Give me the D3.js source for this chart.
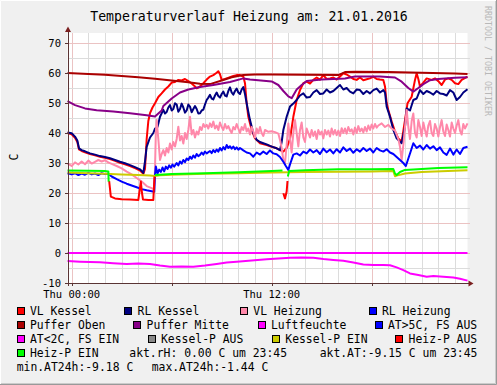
<!DOCTYPE html>
<html><head><meta charset="utf-8">
<script src="https://cdn.jsdelivr.net/npm/d3@7"></script>
<style>
html,body{margin:0;padding:0;background:#fff;}
svg{display:block;}
text{font-family:"DejaVu Sans Mono",monospace;}
</style></head>
<body>
<svg id="chart" width="497" height="385"></svg>
<script>
// ---------- data ----------
const title = "Temperaturverlauf Heizung am: 21.01.2016";
const yLabel = "C";
const yTicks = [-10, 0, 10, 20, 30, 40, 50, 60, 70];
const xTickHours = [0, 12];
const xTickLabels = ["Thu 00:00", "Thu 12:00"];

// [hour, value]; null = no data
const vlKessel = [[-0.25,40.0],[0,39.6],[0.2,38.4],[0.34,37.0],[0.44,34.5],[0.6,34.0],[0.8,33.6],[1.1,33.0],[1.4,32.6],[1.7,32.1],[2.0,31.7],[2.3,31.3],[2.6,30.7],[2.9,30.1],[3.2,29.6],[3.5,29.0],[3.8,28.3],[4.1,27.5],[4.3,26.4],[4.4,28.0],[4.5,38.0],[4.6,44.0],[4.7,46.6],[4.85,48.5],[5.0,49.9],[5.2,52.0],[5.4,53.2],[5.6,54.5],[5.8,55.5],[6.0,56.8],[6.2,57.0],[6.4,57.7],[6.6,57.5],[6.8,58.0],[7.0,57.3],[7.2,56.5],[7.4,55.5],[7.5,54.9],[7.7,55.5],[7.9,56.6],[8.1,57.8],[8.3,58.8],[8.5,59.3],[8.7,60.1],[8.8,60.6],[8.9,59.6],[9.0,57.7],[9.2,58.0],[9.3,58.2],[9.5,58.6],[9.7,59.0],[9.9,59.3],[10.1,59.3],[10.3,58.8],[10.4,56.6],[10.5,49.9],[10.6,45.4],[10.8,41.0],[11.0,38.2],[11.3,36.6],[11.7,36.0],[12.0,35.4],[12.3,34.9],[12.5,34.3],[12.7,33.8],[12.9,35.0],[13.1,38.0],[13.3,45.4],[13.5,51.0],[13.7,54.3],[13.9,56.6],[14.1,57.1],[14.3,56.5],[14.5,57.7],[14.7,58.5],[14.9,57.8],[15.1,59.3],[15.3,58.0],[15.5,58.2],[15.7,58.5],[15.9,57.8],[16.1,58.8],[16.3,59.9],[16.5,59.5],[16.7,58.8],[16.9,58.0],[17.1,57.7],[17.3,58.5],[17.5,57.6],[17.7,57.9],[17.9,58.2],[18.1,58.8],[18.3,58.0],[18.5,57.8],[18.7,57.7],[18.8,55.5],[18.9,50.0],[19.0,47.7],[19.2,43.8],[19.4,40.5],[19.6,38.2],[19.8,37.1],[20.0,44.3],[20.15,49.9],[20.4,52.1],[20.6,57.7],[20.7,59.9],[20.8,58.0],[20.9,55.5],[21.1,56.8],[21.3,58.2],[21.6,57.7],[21.8,58.2],[22.0,57.3],[22.2,56.0],[22.4,57.8],[22.6,58.2],[22.8,57.7],[23.0,56.6],[23.2,56.3],[23.4,57.7],[23.75,58.8]];

const rlKessel = [[-0.25,40.2],[0,39.9],[0.2,38.8],[0.34,37.5],[0.44,34.9],[0.6,34.3],[0.8,33.9],[1.1,33.2],[1.4,32.8],[1.7,32.3],[2.0,32.0],[2.3,31.6],[2.6,31.0],[2.9,30.4],[3.2,29.9],[3.5,29.3],[3.8,28.6],[4.1,27.9],[4.3,26.7],[4.4,30.5],[4.5,35.4],[4.7,38.5],[4.9,40.0],[5.0,41.5],[5.15,42.0],[5.3,45.4],[5.5,47.7],[5.6,46.5],[5.7,47.0],[5.8,48.5],[5.9,49.3],[6.0,47.5],[6.1,48.0],[6.2,49.9],[6.3,49.5],[6.4,47.1],[6.5,48.0],[6.6,49.8],[6.7,48.5],[6.8,46.8],[6.9,47.5],[7.0,49.5],[7.1,48.8],[7.2,46.9],[7.3,48.0],[7.4,49.0],[7.5,48.0],[7.6,46.5],[7.7,46.6],[7.8,47.5],[7.9,47.8],[8.0,49.5],[8.1,51.0],[8.2,51.8],[8.3,52.7],[8.4,51.5],[8.5,51.2],[8.6,52.5],[8.7,53.5],[8.8,52.3],[8.9,51.8],[9.0,53.0],[9.1,53.8],[9.2,52.5],[9.3,52.2],[9.4,54.0],[9.5,55.2],[9.6,53.5],[9.7,52.8],[9.8,54.0],[9.9,54.8],[10.0,53.5],[10.1,53.0],[10.2,54.5],[10.3,55.3],[10.4,53.0],[10.5,49.9],[10.6,47.0],[10.7,44.3],[10.9,39.9],[11.1,37.7],[11.3,37.0],[11.5,36.6],[11.7,36.2],[11.9,35.7],[12.1,35.3],[12.3,34.9],[12.5,34.3],[12.6,37.0],[12.7,41.0],[12.9,45.4],[13.1,48.8],[13.3,49.8],[13.5,51.0],[13.7,52.5],[13.9,53.2],[14.1,51.8],[14.3,52.0],[14.5,53.5],[14.7,54.3],[14.9,53.0],[15.1,53.2],[15.3,54.5],[15.5,53.5],[15.7,54.0],[15.9,55.0],[16.1,56.0],[16.3,54.5],[16.5,55.0],[16.7,53.8],[16.9,53.2],[17.1,54.5],[17.3,54.3],[17.5,53.0],[17.7,54.0],[17.9,53.2],[18.1,54.3],[18.3,54.8],[18.5,53.5],[18.7,54.3],[18.8,53.5],[18.9,48.8],[19.1,45.4],[19.3,41.0],[19.5,38.2],[19.7,37.1],[19.8,36.6],[20.0,42.0],[20.1,48.2],[20.3,47.5],[20.5,51.0],[20.7,51.5],[20.9,54.3],[21.1,53.0],[21.3,54.0],[21.5,53.5],[21.7,52.8],[21.9,54.0],[22.1,53.2],[22.3,53.0],[22.5,52.5],[22.7,54.3],[22.9,53.5],[23.1,51.0],[23.3,52.0],[23.5,53.5],[23.75,54.6]];

const vlHeizung = [[-0.25,29.9],[0,29.0],[0.2,30.2],[0.4,29.5],[0.6,30.5],[0.8,29.6],[1.0,30.8],[1.2,29.8],[1.4,30.4],[1.6,31.0],[1.8,30.5],[2.0,30.9],[2.2,30.2],[2.4,29.7],[2.7,29.0],[3.0,28.2],[3.3,27.1],[3.6,26.2],[3.9,25.0],[4.2,23.8],[4.5,22.3],[4.8,21.6],[4.95,21.3],[5.0,28.0],[5.05,40.0],[5.1,44.3],[5.2,38.0],[5.3,31.0],[5.4,33.0],[5.5,34.3],[5.6,32.5],[5.7,35.0],[5.8,33.5],[5.9,36.5],[6.0,34.5],[6.1,37.0],[6.2,35.5],[6.3,38.0],[6.4,42.1],[6.5,37.5],[6.6,39.0],[6.7,36.5],[6.8,40.0],[6.9,38.0],[7.0,41.0],[7.1,45.4],[7.2,39.5],[7.3,41.0],[7.4,38.5],[7.5,40.5],[7.6,39.5],[7.7,42.0],[7.8,41.0],[7.9,43.0],[8.0,42.0],[8.1,42.7],[8.2,41.5],[8.3,43.2],[8.4,42.0],[8.5,43.8],[8.6,41.5],[8.7,42.5],[8.8,41.0],[8.9,43.5],[9.0,42.0],[9.1,41.0],[9.2,43.0],[9.3,41.5],[9.4,42.3],[9.5,41.0],[9.6,40.0],[9.7,42.0],[9.8,41.2],[9.9,43.0],[10.0,41.5],[10.1,40.0],[10.2,42.0],[10.3,41.0],[10.4,43.0],[10.5,40.5],[10.6,41.5],[10.7,39.5],[10.8,42.0],[10.9,40.5],[11.0,38.5],[11.1,41.5],[11.2,39.9],[11.3,42.0],[11.4,40.0],[11.5,39.0],[11.6,41.0],[11.8,40.4],[12.0,40.6],[12.2,40.3],[12.4,39.8],[12.5,37.7],[12.6,35.0],[12.7,31.0],[12.8,30.0],[12.9,36.0],[13.0,43.2],[13.1,38.0],[13.2,33.5],[13.3,40.0],[13.4,44.3],[13.5,40.0],[13.6,35.5],[13.7,41.0],[13.8,43.5],[13.9,38.5],[14.0,37.0],[14.1,41.5],[14.2,40.0],[14.3,38.5],[14.4,41.0],[14.5,39.0],[14.6,40.5],[14.7,38.0],[14.8,41.0],[14.9,39.5],[15.0,40.5],[15.1,38.2],[15.2,41.0],[15.3,39.5],[15.4,40.8],[15.5,38.8],[15.6,41.5],[15.7,39.5],[15.8,41.0],[15.9,39.3],[16.0,40.8],[16.1,39.0],[16.2,41.6],[16.3,40.0],[16.4,41.5],[16.5,39.8],[16.6,42.0],[16.7,40.5],[16.8,41.2],[16.9,39.5],[17.0,41.8],[17.1,40.0],[17.2,42.3],[17.3,40.5],[17.4,41.5],[17.5,40.2],[17.6,42.0],[17.7,40.5],[17.8,42.5],[17.9,41.0],[18.0,42.8],[18.1,41.5],[18.2,43.0],[18.3,41.8],[18.4,42.5],[18.6,43.2],[18.8,42.0],[19.0,42.7],[19.2,41.5],[19.4,40.8],[19.6,38.0],[19.7,35.4],[19.8,31.0],[19.9,36.0],[20.0,42.0],[20.1,47.7],[20.2,42.0],[20.3,38.0],[20.4,44.0],[20.5,46.5],[20.6,40.0],[20.7,38.5],[20.8,44.3],[20.9,42.0],[21.0,39.0],[21.1,43.5],[21.2,41.0],[21.3,38.8],[21.4,42.5],[21.5,44.0],[21.6,40.0],[21.7,39.0],[21.8,43.0],[21.9,41.5],[22.0,38.8],[22.1,42.0],[22.2,44.3],[22.3,40.5],[22.4,39.0],[22.5,42.8],[22.6,41.0],[22.7,38.8],[22.8,43.5],[22.9,41.5],[23.0,40.0],[23.1,42.5],[23.2,44.3],[23.3,40.8],[23.4,39.5],[23.5,43.0],[23.6,41.5],[23.75,43.2]];

const rlHeizung = [[-0.25,26.6],[0,26.2],[0.2,26.6],[0.4,26.0],[0.6,26.5],[0.8,26.1],[1.0,26.7],[1.2,26.2],[1.4,26.5],[1.6,26.0],[1.8,26.6],[2.0,26.3],[2.2,26.4],[2.4,25.5],[2.7,24.6],[3.0,23.8],[3.3,23.1],[3.6,22.5],[3.9,21.9],[4.2,21.3],[4.5,20.9],[4.8,20.6],[4.95,20.4],[5.0,26.0],[5.05,28.8],[5.15,26.5],[5.25,27.8],[5.35,27.0],[5.45,28.5],[5.55,27.2],[5.65,28.8],[5.75,28.0],[5.85,29.2],[5.95,28.4],[6.05,29.5],[6.15,28.8],[6.3,30.0],[6.4,29.2],[6.5,30.5],[6.6,29.8],[6.7,31.0],[6.8,30.3],[6.9,31.5],[7.0,31.0],[7.1,32.1],[7.2,31.4],[7.3,32.5],[7.4,31.8],[7.5,33.0],[7.6,32.3],[7.7,32.7],[7.8,33.5],[7.9,32.8],[8.0,33.8],[8.1,33.2],[8.3,34.0],[8.4,33.3],[8.5,34.3],[8.6,33.6],[8.7,34.5],[8.8,33.8],[8.9,35.0],[9.0,34.2],[9.1,35.3],[9.2,34.5],[9.3,36.0],[9.4,35.0],[9.5,35.6],[9.6,34.8],[9.7,35.5],[9.8,34.6],[9.9,35.2],[10.0,34.4],[10.1,35.0],[10.3,34.2],[10.5,33.5],[10.7,33.2],[10.9,32.1],[11.1,33.5],[11.3,32.8],[11.5,33.8],[11.7,33.0],[11.9,34.2],[12.1,33.2],[12.3,32.9],[12.5,32.0],[12.7,30.4],[12.85,29.0],[13.0,27.7],[13.1,29.5],[13.3,32.8],[13.5,33.2],[13.7,32.5],[13.9,33.8],[14.1,33.2],[14.3,34.5],[14.5,33.5],[14.7,34.3],[14.9,33.0],[15.1,34.8],[15.3,33.6],[15.5,34.5],[15.7,33.2],[15.9,34.6],[16.1,33.5],[16.3,35.2],[16.5,34.0],[16.7,34.8],[16.9,33.4],[17.1,34.6],[17.3,33.8],[17.5,35.0],[17.7,34.0],[17.9,34.8],[18.1,33.5],[18.3,35.0],[18.5,34.2],[18.7,33.8],[18.9,34.6],[19.1,33.5],[19.3,33.0],[19.5,32.0],[19.7,31.0],[19.9,30.0],[20.05,29.0],[20.2,31.5],[20.35,34.0],[20.5,36.6],[20.7,35.0],[20.9,35.8],[21.1,34.5],[21.3,36.0],[21.5,34.8],[21.7,35.6],[21.9,34.3],[22.1,35.2],[22.3,33.5],[22.5,32.7],[22.7,34.8],[22.9,32.8],[23.1,34.5],[23.3,33.0],[23.5,35.0],[23.75,35.4]];

const pufferOben = [[-0.25,60.0],[1,59.7],[2,59.4],[3,59.0],[4,58.6],[5,58.1],[6,57.5],[7,56.9],[7.7,56.4],[8.3,56.3],[9,57.5],[9.6,58.6],[10.3,59.3],[11,59.5],[12,59.5],[14,59.4],[16,59.3],[16.4,60.3],[17,60.4],[19,60.3],[21,60.1],[23,59.8],[23.75,59.7]];

const pufferMitte = [[-0.25,50.6],[0.2,49.3],[0.8,48.2],[1.5,47.6],[2.5,47.2],[3.5,46.6],[4.5,45.9],[5.0,45.5],[5.4,47.5],[5.5,49.0],[6.0,51.5],[6.5,53.5],[7.0,54.5],[7.7,55.3],[8.5,56.0],[9.5,57.0],[10.3,58.2],[10.7,57.8],[12.0,57.2],[12.4,56.0],[12.7,54.0],[13.0,52.2],[13.2,51.6],[13.5,54.5],[13.8,56.0],[14.1,57.3],[15.0,57.8],[16.4,58.2],[17.0,58.8],[18.5,58.8],[19.4,58.5],[19.8,57.1],[20.2,55.0],[20.5,53.8],[20.8,55.0],[21.1,56.3],[21.5,57.6],[22.0,58.0],[23.0,58.4],[23.75,58.6]];

const luftfeuchte = [[-0.25,0],[23.75,0]];

const atAus = [];

const atEin = [[-0.25,-2.7],[0.5,-2.9],[1.7,-3.1],[2.5,-3.4],[3.3,-3.7],[4.0,-3.5],[4.7,-3.7],[5.3,-4.2],[5.9,-4.6],[6.6,-4.5],[7.3,-4.6],[8.0,-4.2],[8.7,-3.7],[9.3,-3.2],[9.9,-2.9],[10.8,-2.5],[11.7,-2.1],[12.4,-1.8],[13.1,-1.6],[13.8,-1.5],[14.5,-1.6],[15.1,-2.0],[15.7,-2.3],[16.3,-2.6],[16.9,-3.2],[17.5,-3.8],[18.1,-4.0],[18.7,-4.0],[19.1,-4.1],[19.5,-4.8],[19.9,-5.7],[20.3,-6.8],[20.8,-7.3],[21.3,-7.9],[21.7,-7.7],[22.3,-7.9],[22.9,-8.2],[23.3,-8.6],[23.75,-9.2]];

const kesselPAus = [];

const kesselPEin = [[-0.25,26.8],[1,26.6],[2,26.4],[3,26.2],[4,26.0],[4.7,25.8],[5.0,25.7],[5.3,25.9],[6,26.1],[8,26.4],[10,26.6],[12,26.8],[14,27.0],[16,27.1],[18,27.2],[19.3,27.3],[19.4,25.6],[19.5,25.8],[20,26.5],[21,27.0],[23.75,27.6]];

const heizPAus = [[2.25,24.0],[2.35,18.8],[2.6,18.2],[3.0,17.9],[3.5,17.8],[4.0,17.7],[4.08,21.0],[4.15,23.8],[4.22,20.0],[4.28,17.8],[4.6,17.7],[4.9,17.7],[4.97,25.5],[null,null],[12.7,19.9],[12.8,18.2],[12.9,20.5],[12.95,24.0]];

const heizPEin = [[-0.25,27.5],[1,27.4],[2.0,27.3],[2.2,27.2],[2.22,23.8],[null,null],[5.0,26.0],[6,26.3],[8,26.6],[10,26.9],[12,27.3],[12.65,27.5],[null,null],[12.97,25.5],[13.05,27.3],[14,27.6],[16,27.9],[18,27.9],[19.3,28.0],[19.4,26.5],[19.5,26.0],[19.7,27.0],[20,27.7],[22,28.3],[23.75,28.6]];

const seriesNames = ["VL Kessel","RL Kessel","VL Heizung","RL Heizung","Puffer Oben","Puffer Mitte","Luftfeuchte","AT>5C, FS AUS","AT<2C, FS EIN","Kessel-P AUS","Kessel-P EIN","Heiz-P AUS","Heiz-P EIN"];
const seriesColors = ["#FF0000","#000080","#FF88AA","#0000FF","#AA0000","#880088","#FF00FF","#0000FF","#FF00FF","#888888","#CCCC00","#FF0000","#00FF00"];
const seriesData = [vlKessel, rlKessel, vlHeizung, rlHeizung, pufferOben, pufferMitte, luftfeuchte, atAus, atEin, kesselPAus, kesselPEin, heizPAus, heizPEin];

const infoLines = ["akt.rH: 0.00 C um 23:45", "akt.AT:-9.15 C um 23:45", "min.AT24h:-9.18 C", "max.AT24h:-1.44 C"];
const watermark = "RRDTOOL / TOBI OETIKER";

// ---------- layout ----------
const legendPos = [[16.7,315],[124.3,315],[240,315],[368.7,315],
                   [16.7,329],[133.3,329],[257.7,329],[374.7,329],
                   [16.7,343],[147.7,343],[272,343],[395.3,343],
                   [16.7,357]];
const infoPos = [[129.3,357],[319.7,357],[16.7,371],[151.7,371]];

const svg = d3.select("#chart");
const W = 497, H = 385;
const pL = 67.5, pR = 467.5, pT = 33, pB = 283;

svg.append("rect").attr("width", W).attr("height", H).attr("fill", "#F0F0F0");
svg.append("path").attr("d", `M0.5,${H} V0.5 H${W}`).attr("stroke", "#FFFFFF").attr("fill", "none");
svg.append("path").attr("d", `M${W-1.5},1 V${H-1.5} H1`).attr("stroke", "#CBCBCB").attr("fill", "none");
svg.append("path").attr("d", `M${W-0.5},0 V${H-0.5} H0`).attr("stroke", "#999999").attr("fill", "none");

const x = d3.scaleLinear().domain([-0.25, 23.75]).range([pL, pR]);
const y = d3.scaleLinear().domain([-10, 73.3333]).range([pB, pT]);

svg.append("rect").attr("x", pL).attr("y", pT).attr("width", pR-pL).attr("height", pB-pT).attr("fill", "#FFFFFF");

const grid = svg.append("g").attr("shape-rendering", "crispEdges");
d3.range(0, 24).forEach(h => {
  const major = h % 6 === 0;
  const px = Math.round(x(h)) + 0.5;
  grid.append("line").attr("x1", px).attr("x2", px).attr("y1", pT).attr("y2", pB)
    .attr("stroke", major ? "#EBC3C3" : "#DCDCDC");
});
d3.range(-10, 75, 5).forEach(v => {
  const major = v % 10 === 0;
  const py = Math.round(y(v)) + 0.5;
  grid.append("line").attr("x1", pL).attr("x2", pR + 2).attr("y1", py).attr("y2", py)
    .attr("stroke", major ? "#EBC3C3" : "#DCDCDC");
});

// series
const line = d3.line().defined(d => d[0] !== null && d[1] !== null).x(d => x(d[0])).y(d => y(d[1]));
seriesData.forEach((data, i) => {
  if (!data.length) return;
  svg.append("path").attr("d", line(data)).attr("fill", "none")
    .attr("stroke", seriesColors[i]).attr("stroke-width", 2).attr("stroke-linejoin", "round");
});

// axes
const axisC = "#5a3434";
const axisG = svg.append("g").attr("shape-rendering", "crispEdges");
axisG.append("line").attr("x1", pL).attr("x2", pR + 2).attr("y1", pB + 0.5).attr("y2", pB + 0.5).attr("stroke", axisC);
axisG.append("line").attr("x1", pL + 0.5).attr("x2", pL + 0.5).attr("y1", pT - 2).attr("y2", pB + 3).attr("stroke", axisC);
[0, 6, 12, 18].forEach(h => {
  const px = Math.round(x(h)) + 0.5;
  axisG.append("line").attr("x1", px).attr("x2", px).attr("y1", pB).attr("y2", pB + 3).attr("stroke", axisC);
});
yTicks.forEach(v => {
  const py = Math.round(y(v)) + 0.5;
  axisG.append("line").attr("x1", pL - 3).attr("x2", pL).attr("y1", py).attr("y2", py).attr("stroke", axisC);
});
svg.append("path").attr("d", `M${pR+1},${pB-2.5} L${pR+6},${pB+0.5} L${pR+1},${pB+3.5} Z`).attr("fill", "#7a1f1f");
svg.append("path").attr("d", `M${pL-2.5},${pT-1} L${pL+0.5},${pT-6.5} L${pL+3.5},${pT-1} Z`).attr("fill", "#7a1f1f");

// tick labels
svg.append("g").selectAll("text").data(yTicks).join("text")
  .attr("x", 61).attr("y", d => y(d) + 3.8).attr("text-anchor", "end")
  .attr("font-size", 10.5).attr("fill", "#000").text(d => d);
svg.append("g").selectAll("text").data(xTickHours).join("text")
  .attr("x", d => x(d)).attr("y", 298).attr("text-anchor", "middle")
  .attr("font-size", 10.5).attr("fill", "#000").text((d, i) => xTickLabels[i]);

svg.append("text").attr("x", 249).attr("y", 21).attr("text-anchor", "middle")
  .attr("font-size", 13.2).attr("fill", "#000").text(title);
svg.append("text").attr("transform", "translate(18.3,157) rotate(-90)").attr("text-anchor", "middle")
  .attr("font-size", 11.4).attr("fill", "#000").text(yLabel);
svg.append("text").attr("transform", "translate(485,6) rotate(90)")
  .attr("font-size", 8.3).attr("fill", "#B8B8B8").text(watermark);

// legend
const leg = svg.append("g");
seriesNames.forEach((name, i) => {
  const [lx, ly] = legendPos[i];
  leg.append("rect").attr("x", Math.round(lx) + 0.5).attr("y", ly - 7.5).attr("width", 7).attr("height", 7)
    .attr("fill", seriesColors[i]).attr("stroke", "#000").attr("stroke-width", 1).attr("shape-rendering", "crispEdges");
  leg.append("text").attr("x", lx + 13.3).attr("y", ly).attr("font-size", 11.4).attr("fill", "#000").text(name);
});
infoLines.forEach((t, i) => {
  leg.append("text").attr("x", infoPos[i][0]).attr("y", infoPos[i][1]).attr("font-size", 11.4).attr("fill", "#000").style("white-space", "pre").text(t);
});
</script>
</body></html>
